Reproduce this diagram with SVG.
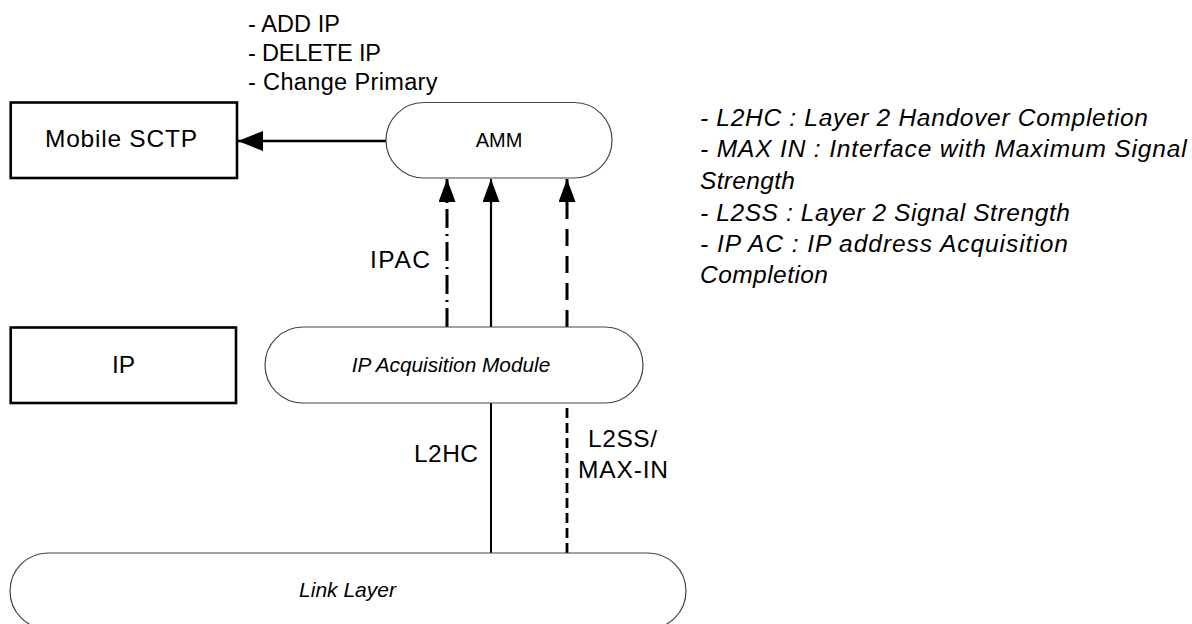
<svg xmlns="http://www.w3.org/2000/svg" width="1192" height="624" viewBox="0 0 1192 624">
<style>
text{font-family:"Liberation Sans",Arial,sans-serif;fill:#000}
.box{fill:#fff;stroke:#000;stroke-width:2.6}
.pill{fill:#fff;stroke:#444;stroke-width:1.2}
.lbl{font-size:24.5px}
.it{font-style:italic}
.leg{font-size:24.5px;font-style:italic}
.top{font-size:23.5px}
.c{stroke:#000;fill:none}
</style>
<defs>
<marker id="ahv" markerUnits="userSpaceOnUse" viewBox="0 0 23 17" markerWidth="23" markerHeight="17" refX="23" refY="8.5" orient="auto"><path d="M0,0 L23,8.5 L0,17 z" fill="#000"/></marker>
<marker id="ahh" markerUnits="userSpaceOnUse" viewBox="0 0 25 20" markerWidth="25" markerHeight="20" refX="25" refY="10" orient="auto"><path d="M0,0 L25,10 L0,20 z" fill="#000"/></marker>
</defs>
<rect width="1192" height="624" fill="#fff"/>

<g id="connectors">
<line class="c" x1="386" y1="141" x2="238" y2="141" stroke-width="2.4" marker-end="url(#ahh)"/>
<line class="c" x1="447" y1="327" x2="447" y2="179" stroke-width="3" stroke-dasharray="19 6 2 6" marker-end="url(#ahv)"/>
<line class="c" x1="491" y1="327" x2="491" y2="179" stroke-width="2.2" marker-end="url(#ahv)"/>
<line class="c" x1="567" y1="327" x2="567" y2="179" stroke-width="3" stroke-dasharray="17 10" marker-end="url(#ahv)"/>
<line class="c" x1="491" y1="553" x2="491" y2="403" stroke-width="2"/>
<line class="c" x1="567" y1="553" x2="567" y2="403" stroke-width="2.8" stroke-dasharray="10 5"/>
<text class="lbl" x="370" y="268" textLength="60">IPAC</text>
<text class="lbl" x="414" y="461.7" textLength="64">L2HC</text>
<text class="lbl" x="588" y="446.7" textLength="69">L2SS/</text>
<text class="lbl" x="578" y="478.3" textLength="90">MAX-IN</text>
</g>

<g id="mobile-sctp">
<rect class="box" x="10.7" y="102.5" width="226.3" height="75.5"/>
<text class="lbl" x="45" y="146.7" textLength="152">Mobile SCTP</text>
</g>

<g id="amm">
<rect class="pill" x="386" y="102.5" width="226" height="75.5" rx="37.75"/>
<text x="499" y="147.3" text-anchor="middle" font-size="20">AMM</text>
</g>

<g id="ip">
<rect class="box" x="10.7" y="327.5" width="225.3" height="75.5"/>
<text class="lbl" x="123.5" y="373" text-anchor="middle">IP</text>
</g>

<g id="ip-acquisition-module">
<rect class="pill" x="265" y="327" width="378" height="76" rx="38"/>
<text class="it" x="451" y="371.7" text-anchor="middle" font-size="20.8">IP Acquisition Module</text>
</g>

<g id="link-layer">
<rect class="pill" x="10" y="553" width="676" height="76" rx="38"/>
<text class="it" x="347.5" y="597" text-anchor="middle" font-size="21">Link Layer</text>
</g>

<g id="operations">
<text class="top" x="248" y="31.7" textLength="92">- ADD IP</text>
<text class="top" x="248" y="61" textLength="133">- DELETE IP</text>
<text class="top" x="248" y="90" textLength="189.5">- Change Primary</text>
</g>

<g id="legend">
<text class="leg" x="700" y="125.7" textLength="448">- L2HC : Layer 2 Handover Completion</text>
<text class="leg" x="700" y="157.3" textLength="486.7">- MAX IN : Interface with Maximum Signal</text>
<text class="leg" x="700" y="189" textLength="95">Strength</text>
<text class="leg" x="700" y="221" textLength="370">- L2SS : Layer 2 Signal Strength</text>
<text class="leg" x="700" y="251.7" textLength="368">- IP AC : IP address Acquisition</text>
<text class="leg" x="700" y="283.3" textLength="128">Completion</text>
</g>
</svg>
